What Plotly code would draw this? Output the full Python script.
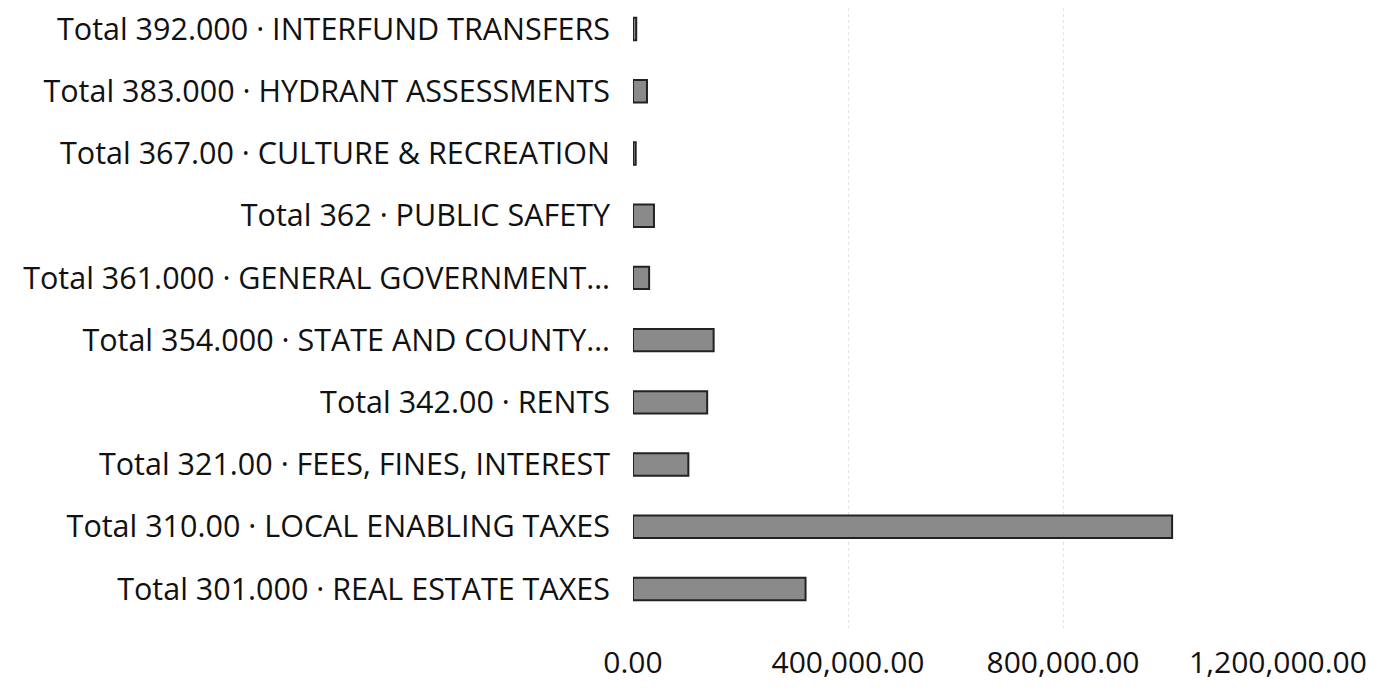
import plotly.graph_objects as go

categories = [
    "Total 301.000 · REAL ESTATE TAXES",
    "Total 310.00 · LOCAL ENABLING TAXES",
    "Total 321.00 · FEES, FINES, INTEREST",
    "Total 342.00 · RENTS",
    "Total 354.000 · STATE AND COUNTY…",
    "Total 361.000 · GENERAL GOVERNMENT…",
    "Total 362 · PUBLIC SAFETY",
    "Total 367.00 · CULTURE & RECREATION",
    "Total 383.000 · HYDRANT ASSESSMENTS",
    "Total 392.000 · INTERFUND TRANSFERS",
]
values = [321000, 1003000, 103000, 138000, 150000, 30000, 39000, 5000, 26000, 6000]
tick_vals = [0, 400000, 800000, 1200000]
tick_text = ["0.00", "400,000.00", "800,000.00", "1,200,000.00"]

fig = go.Figure(go.Bar(
    x=values, y=categories, orientation="h",
    marker=dict(color="#8a8a8a", line=dict(color="#222222", width=2)),
))

fig.update_layout(
    width=1400, height=691,
    margin=dict(l=625, r=130, t=0, b=71, autoexpand=False),
    paper_bgcolor="white", plot_bgcolor="white",
    bargap=0.64,
    showlegend=False,
    font=dict(family="'Open Sans', Lato, sans-serif", size=30, color="#111"),
)
fig.update_xaxes(
    range=[0, 1200000], tickvals=tick_vals, ticktext=tick_text,
    showgrid=True, gridcolor="#e2e2e2", griddash="dot", gridwidth=1,
    zeroline=False, showline=False, ticks="", ticklabelstandoff=14,
    tickfont=dict(size=30), automargin=False,
)
fig.update_yaxes(
    categoryorder="array", categoryarray=categories,
    range=[-0.627, 9.338],
    showgrid=False, zeroline=False, showline=False,
    ticks="", ticklabelstandoff=22, tickfont=dict(size=30.5), automargin=False,
)

fig.write_html("out.html")
